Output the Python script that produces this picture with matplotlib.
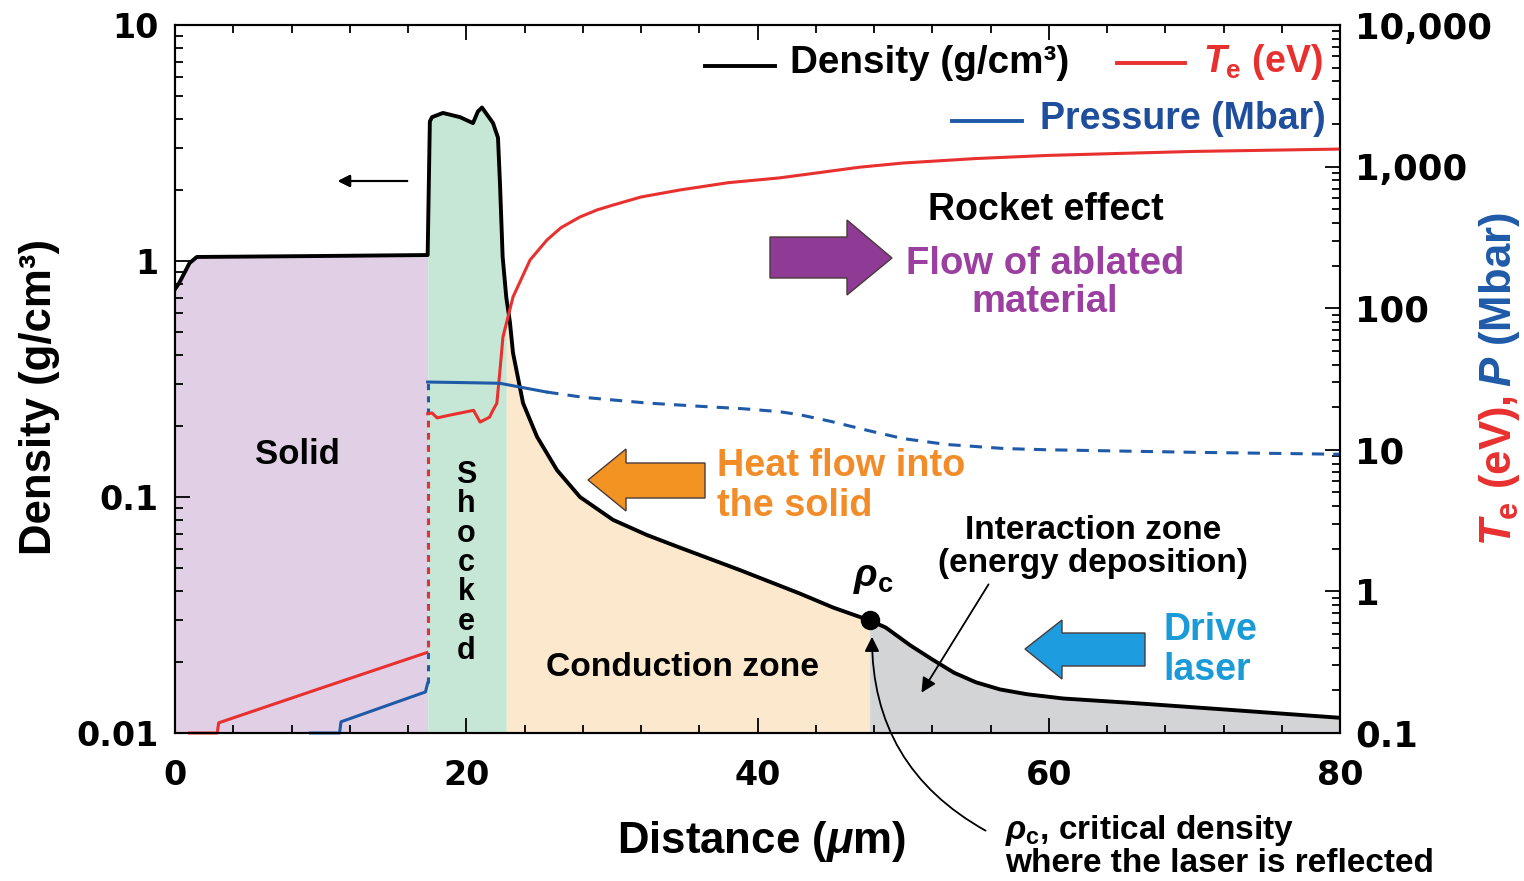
import numpy as np
import matplotlib
matplotlib.use("Agg")
import matplotlib.pyplot as plt
from matplotlib.patches import Polygon
from matplotlib.lines import Line2D
from matplotlib.ticker import LogLocator, NullFormatter, MultipleLocator

# ------------------ DATA ------------------

# density (g/cm3) vs distance (um), left axis
dens_x = [0, 0.3, 1.0, 1.5, 10, 17.35, 17.5, 17.65, 18.4, 19.57, 20.46, 20.8, 21.08,
          21.84, 22.18, 22.32, 22.5, 22.75, 23.0, 23.21, 23.9, 24.86, 26.23, 27.81,
          30.08, 32.41, 34.68, 38.8, 42.9, 45.2, 47.7, 48.8, 50.5, 52, 53.5, 55,
          56.65, 58.5, 61, 65.8, 72.7, 80]
dens_y = [0.76, 0.81, 0.98, 1.04, 1.05, 1.06, 3.9, 4.07, 4.24, 4.07, 3.84, 4.3, 4.47,
          3.84, 3.33, 2.1, 1.04, 0.70, 0.55, 0.408, 0.25, 0.18, 0.13, 0.10,
          0.08, 0.069, 0.061, 0.049, 0.039, 0.034, 0.030, 0.028, 0.0235, 0.0205, 0.018,
          0.0164, 0.0153, 0.0146, 0.0140, 0.0134, 0.0125, 0.0116]

# electron temperature (eV), right axis
te_solid_x = [1.0, 2.9, 3.0, 10, 17.3]
te_solid_y = [0.1, 0.1, 0.118, 0.207, 0.37]
te_jump_x = [17.35, 17.35]
te_jump_y = [0.37, 18]
te_x = [17.35, 17.65, 18.0, 18.9, 20.5, 20.95, 21.6, 21.84, 22.1, 22.3, 22.52, 23.21,
        24.38, 25.54, 26.5, 27.81, 29, 30.08, 32, 34.68, 38, 41.5, 44, 47, 50, 55,
        60, 65, 70, 80]
te_y = [18, 18.2, 16.8, 17.6, 19.0, 15.7, 17.0, 19.1, 21.3, 35, 62.6, 120,
        219, 303, 370, 441, 495, 535, 610, 684, 770, 832, 900, 990, 1060, 1140,
        1200, 1240, 1280, 1330]

# pressure (Mbar), right axis
p_solid_x = [9.3, 11.3, 11.4, 17.2, 17.35]
p_solid_y = [0.1, 0.1, 0.12, 0.195, 0.225]
p_jump_x = [17.35, 17.35]
p_jump_y = [0.225, 30.1]
p_x = [17.35, 20, 22.3, 25.5]
p_y = [30.1, 29.8, 29.5, 25.6]
p_dash_x = [25.5, 28, 32.4, 36, 39, 41.5, 43, 45, 47.7, 50, 53, 57, 60, 70, 80]
p_dash_y = [25.6, 23.5, 21.4, 20.3, 19.5, 18.6, 17.6, 15.9, 13.6, 12.0, 10.9, 10.2,
            10.0, 9.6, 9.3]

rho_c_x = 47.7
rho_c_y = 0.030

# zone edges (um)
zone_edges = [0, 17.35, 22.75, 47.7, 80]
zone_colors = ["#e1cfe5", "#c7e7d6", "#fce8cc", "#d3d4d6"]

left_ticks = [0.01, 0.1, 1, 10]
left_labels = ["0.01", "0.1", "1", "10"]
right_ticks = [0.1, 1, 10, 100, 1000, 10000]
right_labels = ["0.1", "1", "10", "100", "1,000", "10,000"]
x_ticks = [0, 20, 40, 60, 80]

RED = "#e8302f"
BLUE = "#1f5aa8"
ORANGE = "#f28c28"
PURPLE = "#9b3fa0"
LBLUE = "#1a9ad6"

# ------------------ STYLE ------------------

plt.rcParams["font.family"] = ["Liberation Sans", "DejaVu Sans"]
plt.rcParams["font.weight"] = "bold"
plt.rcParams["mathtext.fontset"] = "custom"
plt.rcParams["mathtext.rm"] = "Liberation Sans:bold"
plt.rcParams["mathtext.bf"] = "Liberation Sans:bold"
plt.rcParams["mathtext.it"] = "Liberation Sans:italic:bold"

W, H = 1524, 881
fig = plt.figure(figsize=(W / 100, H / 100), dpi=100)


def fxy(x, y):
    # figure pixel -> figure fraction
    return (x / W, 1 - y / H)


def put(x, y, s, **kw):
    return fig.text(x / W, 1 - y / H, s, **kw)


ax = fig.add_axes([175 / W, 1 - 733 / H, 1165 / W, 708 / H])
ax2 = ax.twinx()

dx = np.array(dens_x)
dy = np.array(dens_y)

# ------------------ FILLS + LINES ------------------

for i, c in enumerate(zone_colors):
    m = (dx >= zone_edges[i]) & (dx <= zone_edges[i + 1])
    ax.fill_between(dx[m], dy[m], 0.01, color=c, lw=0, zorder=1)

ax.plot(dx, dy, color="black", lw=2.8, zorder=3, solid_joinstyle="round")
ax.plot([rho_c_x], [rho_c_y], "o", color="black", ms=13, zorder=5)

ax2.plot(te_solid_x, te_solid_y, color=RED, lw=2.2, clip_on=False)
ax2.plot(p_solid_x, p_solid_y, color=BLUE, lw=2.2, clip_on=False)
ax2.plot(p_jump_x, p_jump_y, color=BLUE, lw=2.2, dashes=(2, 2))
ax2.plot(te_jump_x, te_jump_y, color=RED, lw=2.2, linestyle=(2, (2, 2)))
ax2.plot(te_x, te_y, color=RED, lw=2.2)
ax2.plot(p_x, p_y, color=BLUE, lw=2.2)
ax2.plot(p_dash_x, p_dash_y, color=BLUE, lw=2.2, dashes=(4, 3))

# ------------------ AXES ------------------

ax.set_xlim(0, 80)
ax.set_yscale("log")
ax.set_ylim(0.01, 10)
ax2.set_yscale("log")
ax2.set_ylim(0.1, 10000)

ax.set_xticks(x_ticks)
ax.xaxis.set_minor_locator(MultipleLocator(4))
ax.set_yticks(left_ticks, left_labels)
ax.yaxis.set_minor_locator(LogLocator(subs=np.arange(2, 10)))
ax.yaxis.set_minor_formatter(NullFormatter())
ax2.set_yticks(right_ticks, right_labels)
ax2.yaxis.set_minor_locator(LogLocator(subs=np.arange(2, 10)))
ax2.yaxis.set_minor_formatter(NullFormatter())

ax.tick_params(which="both", direction="in", top=True, right=False, width=1.3)
ax.tick_params(which="major", length=11)
ax.tick_params(which="minor", length=6)
ax.tick_params(axis="x", pad=19)
ax.tick_params(axis="y", pad=12)
ax2.tick_params(which="both", direction="in", width=1.3, pad=11)
ax2.tick_params(which="major", length=11)
ax2.tick_params(which="minor", length=6)

for lab in ax.get_xticklabels() + ax.get_yticklabels():
    lab.set_fontfamily("DejaVu Sans")
    lab.set_fontweight("bold")
    lab.set_fontsize(24)
for lab in ax2.get_yticklabels():
    lab.set_fontfamily("DejaVu Sans")
    lab.set_fontweight("bold")
    lab.set_fontsize(25.5)

for a in (ax, ax2):
    for sp in a.spines.values():
        sp.set_linewidth(1.5)

# axis titles
put(40, 397, "Density (g/cm³)", rotation=90, ha="center", va="center", fontsize=31.5)
put(761, 842, r"Distance ($\mu$m)", ha="center", va="center", fontsize=31.5)
t_red = put(1500, 546, r"$T_\mathrm{e}$ (eV),", rotation=90, ha="center",
            va="bottom", fontsize=31.5, color=RED)
fig.canvas.draw()
bb = t_red.get_window_extent()
fig.text(1500 / W, (bb.y1 + 8) / H, r"$P$ (Mbar)", rotation=90, ha="center",
         va="bottom", fontsize=31.5, color=BLUE)

# ------------------ LEGEND ------------------

fig.add_artist(Line2D([705 / W, 775 / W], [1 - 66 / H] * 2, color="black", lw=2.8))
put(790, 63, "Density (g/cm³)", ha="left", va="center", fontsize=27.8)
fig.add_artist(Line2D([1117 / W, 1185 / W], [1 - 63 / H] * 2, color=RED, lw=2.8))
put(1203, 62, r"$T_\mathrm{e}$ (eV)", ha="left", va="center", fontsize=27, color=RED)
fig.add_artist(Line2D([952 / W, 1022 / W], [1 - 121 / H] * 2, color=BLUE, lw=2.8))
put(1040, 119, "Pressure (Mbar)", ha="left", va="center", fontsize=27, color="#1f4e9c")

# ------------------ ANNOTATIONS ------------------

put(297, 455, "Solid", ha="center", va="center", fontsize=25)
put(466, 563, "\n".join("Shocked"), ha="center", va="center", fontsize=22,
    linespacing=0.97)
put(683, 667, "Conduction zone", ha="center", va="center", fontsize=24.2)
put(717, 486, "Heat flow into\nthe solid", ha="left", va="center", fontsize=27.3,
    color=ORANGE, linespacing=1.12)
put(1046, 210, "Rocket effect", ha="center", va="center", fontsize=27)
put(1045, 283, "Flow of ablated\nmaterial", ha="center", va="center", fontsize=27.5,
    color=PURPLE, linespacing=1.1)
put(1093, 547, "Interaction zone\n(energy deposition)", ha="center", va="center",
    fontsize=24, linespacing=1.12)
put(873, 578, r"$\rho_\mathrm{c}$", ha="center", va="center", fontsize=28)
put(1163, 650, "Drive\nlaser", ha="left", va="center", fontsize=27, color=LBLUE,
    linespacing=1.12)
put(1005, 846, r"$\rho_\mathrm{c}$, critical density" + "\nwhere the laser is reflected",
    ha="left", va="center", fontsize=24, linespacing=0.98)


def big_arrow(pts, color):
    poly = Polygon([fxy(x, y) for x, y in pts], closed=True, transform=fig.transFigure,
                   facecolor=color, edgecolor="#4a3a3a", lw=1.0)
    fig.add_artist(poly)


big_arrow([(588, 480), (626, 449), (626, 463), (705, 463), (705, 498), (626, 498),
           (626, 511)], "#f39422")
big_arrow([(770, 237), (847, 237), (847, 220), (892, 258), (847, 295), (847, 278),
           (770, 278)], "#8f3b95")
big_arrow([(1025, 649), (1062, 620), (1062, 633), (1145, 633), (1145, 666), (1062, 666),
           (1062, 679)], "#1e9ce0")

fig.add_artist(plt.annotate("", xy=fxy(335, 181), xytext=fxy(410, 181),
                            xycoords="figure fraction", textcoords="figure fraction",
                            arrowprops=dict(arrowstyle="-|>", color="black", lw=1.5,
                                            mutation_scale=18)))
ax2.annotate("", xy=fxy(920, 695), xytext=fxy(990, 582),
             xycoords="figure fraction", textcoords="figure fraction",
             arrowprops=dict(arrowstyle="-|>", color="black", lw=1.3, mutation_scale=22))
ax2.annotate("", xy=fxy(872, 634), xytext=fxy(988, 832),
             xycoords="figure fraction", textcoords="figure fraction",
             annotation_clip=False,
             arrowprops=dict(arrowstyle="-|>", color="black", lw=1.3, mutation_scale=22,
                             connectionstyle="arc3,rad=-0.3"))

fig.savefig("out.png", dpi=100)
